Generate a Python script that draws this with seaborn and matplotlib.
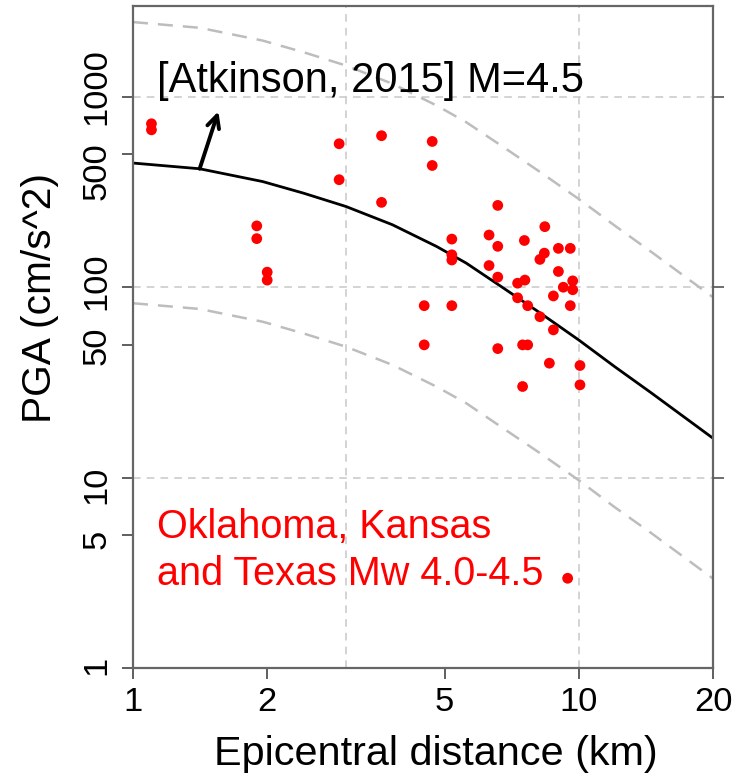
import matplotlib
matplotlib.use("Agg")
import matplotlib.pyplot as plt
import matplotlib.transforms as mtransforms
import pandas as pd
import seaborn as sns

# Recorded peak ground accelerations (Oklahoma, Kansas, Texas; Mw 4.0-4.5)
distance_km = [1.10, 1.10, 1.895, 1.895, 2.00, 2.00, 2.90, 2.90, 3.61, 3.61,
               4.69, 4.69, 6.58, 5.19, 5.19, 5.19, 6.29, 6.58, 7.55, 8.39,
               9.00, 9.57, 8.37, 8.18, 6.29, 6.58, 7.29, 7.57, 9.00, 9.69,
               9.23, 9.69, 7.29, 8.77, 9.57, 4.50, 5.19, 7.68, 8.18, 8.77,
               4.50, 6.58, 7.48, 7.68, 8.59, 10.06, 7.48, 10.06, 9.44]
pga_cms2 = [722, 671, 210, 180, 120, 109, 567, 367, 625, 279,
            583, 436, 269, 179, 148, 139, 188, 164, 176, 208,
            160, 160, 151, 140, 130, 113, 105, 109, 121, 108,
            100, 97, 88, 90, 80, 80, 80, 80, 70, 59.7,
            49.8, 47.6, 49.8, 49.8, 39.9, 38.8, 30.1, 30.7, 2.96]

# Atkinson (2015) median prediction for M=4.5 and its upper/lower bounds
model_dist = [1.0, 1.411, 1.953, 2.412, 3.004, 3.817, 4.80, 5.59, 6.78, 8.20,
              9.99, 12.03, 14.56, 20.0]
model_median = [449, 419, 359, 312, 265.5, 213, 163.6, 133.9, 98.9, 73.1,
                52.9, 38.3, 27.8, 16.1]
model_upper = [2470, 2305, 1975, 1716, 1460, 1172, 900, 736, 544, 402,
               291, 211, 153, 88.6]
model_lower = [82.4, 76.9, 65.9, 57.2, 48.7, 39.1, 30.0, 24.6, 18.1, 13.4,
               9.7, 7.0, 5.1, 2.95]

x_ticks = [1, 2, 5, 10, 20]
x_ticklabels = ["1", "2", "5", "10", "20"]
y_ticks = [1, 5, 10, 50, 100, 500, 1000]
y_ticklabels = ["1", "5", "10", "50", "100", "500", "1000"]
grid_x = [3, 10]
grid_y = [10, 100, 1000]
right_ticks = [10, 100, 1000]

sns.set_theme(style="white")
plt.rcParams["font.family"] = ["Liberation Sans", "DejaVu Sans"]

fig = plt.figure(figsize=(7.53, 7.75), dpi=100)
fig.patch.set_facecolor("white")
ax = fig.add_axes([133 / 753, 107 / 775, 580 / 753, 662 / 775])
ax.set_xscale("log")
ax.set_yscale("log")

obs = pd.DataFrame({"distance": distance_km, "pga": pga_cms2})
model = pd.DataFrame({"distance": model_dist, "median": model_median,
                      "upper": model_upper, "lower": model_lower})

# reference grid
for gx in grid_x:
    ax.axvline(gx, color="#c8c8c8", lw=1.1, ls=(0, (5, 4)), zorder=0)
for gy in grid_y:
    ax.axhline(gy, color="#c8c8c8", lw=1.1, ls=(0, (5, 4)), zorder=0)

sns.lineplot(data=model, x="distance", y="upper", ax=ax, color="#bdbdbd",
             lw=1.8, linestyle=(0, (6, 4)), zorder=1)
sns.lineplot(data=model, x="distance", y="lower", ax=ax, color="#bdbdbd",
             lw=1.8, linestyle=(0, (6, 4)), zorder=1)
sns.lineplot(data=model, x="distance", y="median", ax=ax, color="black",
             lw=2.0, zorder=2)
sns.scatterplot(data=obs, x="distance", y="pga", ax=ax, color="red", s=60,
                edgecolor="none", linewidth=0, zorder=3)

ax.set_xlim(1, 20)
ax.set_ylim(1, 3000)
ax.minorticks_off()
ax.set_xticks(x_ticks)
ax.set_xticklabels(x_ticklabels)
ax.set_yticks(y_ticks)
ax.set_yticklabels(y_ticklabels)
ax.set_xlabel("")
ax.set_ylabel("")

ax.tick_params(axis="both", direction="out", length=8, width=1.2,
               color="#444444", labelsize=24.8, labelcolor="black")
ax.tick_params(axis="x", pad=6, bottom=True)
ax.tick_params(axis="y", pad=7, left=True, labelrotation=90)

# nudge crowded y labels apart
label_shift_px = {"1000": 37, "100": 23, "50": 6, "5": -7}
for lab in ax.get_yticklabels():
    dy = label_shift_px.get(lab.get_text(), 0)
    if dy:
        lab.set_transform(lab.get_transform() +
                          mtransforms.ScaledTranslation(0, dy / 100, fig.dpi_scale_trans))

for sp in ax.spines.values():
    sp.set_visible(True)
    sp.set_color("#666666")
    sp.set_linewidth(1.6)

# outward ticks on the right-hand axis
ax2 = ax.twinx()
ax2.set_yscale("log")
ax2.set_ylim(1, 3000)
ax2.minorticks_off()
ax2.set_yticks(right_ticks)
ax2.set_yticklabels([])
ax2.tick_params(axis="y", direction="out", length=8, width=1.2, color="#555555")
for sp in ax2.spines.values():
    sp.set_visible(False)

ax.annotate("", xy=(1.554, 838), xytext=(1.411, 419),
            arrowprops=dict(arrowstyle="->", color="black", lw=2.8,
                            mutation_scale=22, shrinkA=0, shrinkB=0), zorder=4)
ax.text(0.0414, 0.870, "[Atkinson, 2015] M=4.5", transform=ax.transAxes,
        fontsize=30, color="black", ha="left", va="baseline", zorder=5)
ax.text(0.0414, 0.1964, "Oklahoma, Kansas", transform=ax.transAxes,
        fontsize=28.5, color="red", ha="left", va="baseline", zorder=5)
ax.text(0.0414, 0.1254, "and Texas Mw 4.0-4.5", transform=ax.transAxes,
        fontsize=28.5, color="red", ha="left", va="baseline", zorder=5)

fig.text(436 / 753, 10 / 775, "Epicentral distance (km)", fontsize=29.8,
         ha="center", va="baseline", color="black")
fig.text(40 / 753, (775 - 298) / 775, "PGA (cm/s^2)", fontsize=29.3,
         ha="center", va="center", rotation=90, color="black")

fig.savefig("out.png", dpi=100, facecolor="white")
